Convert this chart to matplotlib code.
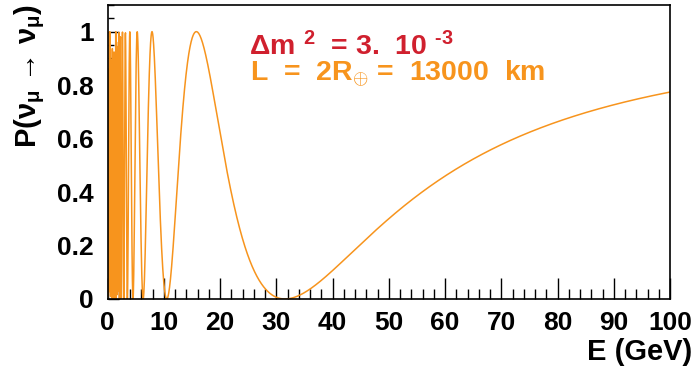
import numpy as np
import matplotlib
matplotlib.use("Agg")
import matplotlib.pyplot as plt
from matplotlib.ticker import MultipleLocator

plt.rcParams['font.family'] = ['Liberation Sans', 'DejaVu Sans']
plt.rcParams['font.weight'] = 'bold'
plt.rcParams['mathtext.fontset'] = 'custom'
plt.rcParams['mathtext.rm'] = 'Liberation Sans:bold'
plt.rcParams['mathtext.it'] = 'Liberation Sans:bold'
plt.rcParams['mathtext.bf'] = 'Liberation Sans:bold'

# parameters printed on the chart
dm2 = 3e-3          # eV^2
L_km = 13000        # km
E_min, E_max = 0.0, 100.0
n_points = 3000

x_ticks = [0, 10, 20, 30, 40, 50, 60, 70, 80, 90, 100]
y_ticks = [0, 0.2, 0.4, 0.6, 0.8, 1]
y_tick_labels = ['0', '0.2', '0.4', '0.6', '0.8', '1']

# survival probability with maximal mixing
E = np.linspace(E_min, E_max, n_points + 1)[1:]
P = 1 - np.sin(1.27 * dm2 * L_km / E) ** 2

orange = '#f7941d'
red = '#d0202e'

fig = plt.figure(figsize=(6.96, 3.78), dpi=100)
ax = fig.add_axes([0.1547, 0.209, 0.808, 0.778])
ax.plot(E, P, color=orange, lw=1.1)

ax.set_xlim(0, 100)
ax.set_ylim(0, 1.1)
ax.set_xticks(x_ticks)
ax.set_yticks(y_ticks)
ax.set_yticklabels(y_tick_labels)
ax.xaxis.set_minor_locator(MultipleLocator(2))
ax.yaxis.set_minor_locator(MultipleLocator(0.05))
ax.tick_params(axis='x', which='major', direction='in', length=15, width=1, labelsize=19, pad=9)
ax.tick_params(axis='x', which='minor', direction='in', length=7.5, width=1)
ax.tick_params(axis='y', which='major', direction='in', length=8, width=1, labelsize=19, pad=10)
ax.tick_params(axis='y', which='minor', direction='in', length=4, width=1)
for lab in ax.get_xticklabels() + ax.get_yticklabels():
    lab.set_fontweight('bold')
for s in ax.spines.values():
    s.set_linewidth(1.2)

fig.text(0.994, 0.069, 'E (GeV)', ha='right', va='center', fontsize=21, fontweight='bold')
fig.text(0.043, 0.99, 'P(ν$_{μ}$ → ν$_{μ}$)', rotation=90,
         ha='center', va='top', fontsize=21, fontweight='bold')

ax.text(0.251, 0.830, r'$\Delta$m $^{2}$  = 3.  10 $^{\text{-3}}$', transform=ax.transAxes,
        color=red, fontsize=20.5, fontweight='bold', ha='left', va='baseline')
ax.text(0.253, 0.741, r'L  =  2R$_{\oplus}$ =  13000  km', transform=ax.transAxes,
        color=orange, fontsize=20.5, fontweight='bold', ha='left', va='baseline')

fig.savefig('out.png', dpi=100)
